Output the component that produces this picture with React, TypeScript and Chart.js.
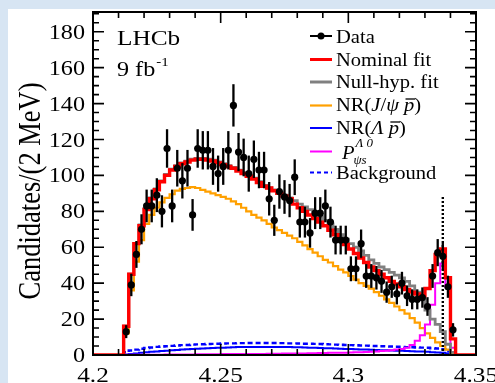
import React, { useEffect, useRef } from 'react';
import { Chart, registerables } from 'chart.js';

Chart.register(...registerables);

// ---- binning / axis ranges ----
const BIN_START = 4.212; // GeV, first bin lower edge
const BIN_WIDTH = 0.002; // 2 MeV bins
const X_MIN = 4.2;
const X_MAX = 4.35;
const Y_MAX = 191;

// ---- data (candidates per 2 MeV bin) ----
const dataCounts = [
  13, 39, 56, 70, 83, 83, 89, 80, 115, 83,
  104, 97, 104, 78, 115, 114, 114, 105, 101, 105,
  114, 139, 113, 110, 101, 109, 103, 103, 87, 75,
  91, 88, 86, 99, 74, 74, 68, 79, 79, 83,
  74, 64, 64, 64, 48, 48, 62, 44, 44, 43,
  41, 35, 38, 34, 40, 33, 31, 31, 32, 27,
  44, 57, 55, 38, 14,
];

// ---- fit components ----
const nominalFit = [
  16, 45, 62, 72, 81, 87, 92, 96.5, 100, 103,
  105, 106.5, 107.5, 108.5, 109, 109, 108.5, 108, 107, 106,
  105, 104, 102.5, 101, 99.5, 98, 96, 94, 93, 91.5,
  90, 88.5, 87, 84, 82, 80, 78, 76, 74, 72,
  69.5, 67, 64, 61.5, 59, 56.5, 54, 51.5, 49, 47,
  45, 43, 41, 39.5, 38, 36.5, 35, 34, 33, 37,
  47, 56, 59, 43, 9,
];

const nullHypFit = [
  16, 45, 62, 72.5, 81.5, 87.5, 92.5, 97, 100.5, 103.5,
  105.5, 107, 108, 109, 109.5, 109.5, 109, 108.5, 107.5, 106.5,
  105.5, 104.5, 103, 101.5, 100, 98.5, 96.5, 94.5, 93, 92,
  90.5, 89, 87.5, 86, 84, 82.5, 81, 79, 77, 75,
  73, 70, 67, 64.5, 62, 60, 58, 55.5, 53, 51,
  49, 47.5, 46, 44.5, 43, 41, 38.5, 35, 31, 25,
  20, 17, 13, 6, 1.5,
];

const nrJpsiPbar = [
  12, 36, 52, 64, 73, 78, 82, 85, 87.5, 89.5,
  91.5, 92.5, 93, 93.5, 93, 92, 91, 90, 89, 88,
  87, 85.5, 84, 82, 80, 78, 76.5, 75, 73, 71,
  69.5, 68, 66.5, 65, 63, 61, 59, 57, 55, 53,
  51.5, 49.5, 47.5, 46, 44, 42, 40, 38.5, 37, 35,
  33, 31, 29, 27, 25, 23, 20.5, 18, 15, 12,
  9.5, 7, 5, 3, 1,
];

const nrLambdaPbar = [
  0.3, 0.6, 0.9, 1.2, 1.5, 1.8, 2, 2.2, 2.4, 2.6,
  2.8, 3, 3.2, 3.3, 3.5, 3.6, 3.8, 3.9, 4, 4.1,
  4.2, 4.3, 4.4, 4.4, 4.5, 4.5, 4.5, 4.5, 4.5, 4.5,
  4.5, 4.4, 4.4, 4.3, 4.3, 4.2, 4.1, 4, 3.9, 3.8,
  3.7, 3.6, 3.5, 3.4, 3.3, 3.2, 3.1, 3, 2.9, 2.8,
  2.7, 2.6, 2.5, 2.4, 2.3, 2.2, 2.1, 2, 1.9, 1.8,
  1.6, 1.4, 1.2, 0.9, 0.5,
];

const pPsiS = [
  0.1, 0.1, 0.1, 0.2, 0.2, 0.2, 0.2, 0.2, 0.3, 0.3,
  0.3, 0.3, 0.3, 0.3, 0.4, 0.4, 0.4, 0.4, 0.4, 0.5,
  0.5, 0.5, 0.5, 0.5, 0.6, 0.6, 0.6, 0.6, 0.7, 0.7,
  0.7, 0.8, 0.8, 0.8, 0.9, 0.9, 1, 1, 1.1, 1.1,
  1.2, 1.2, 1.3, 1.3, 1.4, 1.5, 1.6, 1.7, 1.8, 2,
  2.2, 2.4, 2.7, 3, 3.4, 4, 5.5, 8, 11, 17,
  28, 40, 51, 38, 4,
];

const background = [
  1.5, 2.5, 3, 3.5, 3.9, 4.2, 4.5, 4.7, 4.9, 5.1,
  5.3, 5.5, 5.6, 5.8, 5.9, 6, 6.1, 6.2, 6.3, 6.4,
  6.5, 6.5, 6.6, 6.6, 6.7, 6.7, 6.7, 6.7, 6.7, 6.7,
  6.6, 6.6, 6.5, 6.5, 6.4, 6.3, 6.3, 6.2, 6.1, 6,
  5.9, 5.8, 5.7, 5.6, 5.5, 5.4, 5.3, 5.2, 5.1, 5,
  4.9, 4.8, 4.7, 4.6, 4.5, 4.4, 4.3, 4.2, 4.1, 4,
  3.8, 3.6, 3.2, 2, 0.6,
];

// ---- resonance marker ----
const P_MASS = 4.337;
const P_LINE_TOP = 89;

// ---- ticks ----
const yTickValues = [0, 20, 40, 60, 80, 100, 120, 140, 160, 180];
const xTickValues = [4.2, 4.25, 4.3, 4.35];
const xTickLabels = ['4.2', '4.25', '4.3', '4.35'];

const FONT = '"Liberation Serif", "Times New Roman", serif';
const SX = 1.15; // horizontal stretch of tick text in the reference
const SX_LEG = 1.08;

function binEdge(i: number) {
  return BIN_START + i * BIN_WIDTH;
}

function histPoints(values: number[], padFull = false) {
  const n = values.length;
  const pts: { x: number; y: number }[] = [];
  if (padFull) pts.push({ x: X_MIN, y: 0 });
  pts.push({ x: binEdge(0), y: 0 });
  values.forEach((v, i) => pts.push({ x: binEdge(i), y: v }));
  pts.push({ x: binEdge(n), y: values[n - 1] });
  pts.push({ x: binEdge(n), y: 0 });
  if (padFull) pts.push({ x: X_MAX, y: 0 });
  return pts;
}

function drawText(
  ctx: CanvasRenderingContext2D,
  s: string,
  x: number,
  y: number,
  size: number,
  align: CanvasTextAlign = 'left',
  italic = false,
  sx = SX
) {
  ctx.save();
  ctx.font = `${italic ? 'italic ' : ''}${size}px ${FONT}`;
  ctx.textAlign = align;
  ctx.textBaseline = 'alphabetic';
  ctx.fillStyle = '#000';
  ctx.translate(x, y);
  ctx.scale(sx, 1);
  ctx.fillText(s, 0, 0);
  const w = ctx.measureText(s).width * sx;
  ctx.restore();
  return w;
}

const bgPlugin = {
  id: 'pageBg',
  beforeDraw(chart: any) {
    const ctx = chart.ctx as CanvasRenderingContext2D;
    ctx.save();
    ctx.fillStyle = '#d7e5f3';
    ctx.fillRect(0, 0, chart.width, chart.height);
    ctx.fillStyle = '#ffffff';
    ctx.fillRect(8, 9, chart.width - 8, chart.height - 9);
    ctx.restore();
  },
};

const errorBarPlugin = {
  id: 'errorBars',
  beforeDatasetDraw(chart: any, args: any) {
    if (args.index !== 0) return;
    const ctx = chart.ctx as CanvasRenderingContext2D;
    const xs = chart.scales.x;
    const ys = chart.scales.y;
    ctx.save();
    ctx.strokeStyle = '#000';
    ctx.lineWidth = 2.3;
    dataCounts.forEach((n, i) => {
      const x = xs.getPixelForValue(BIN_START + (i + 0.5) * BIN_WIDTH);
      const e = Math.sqrt(n);
      ctx.beginPath();
      ctx.moveTo(x, ys.getPixelForValue(Math.max(0, n - e)));
      ctx.lineTo(x, ys.getPixelForValue(n + e));
      ctx.stroke();
    });
    ctx.restore();
  },
};

const framePlugin = {
  id: 'frame',
  afterDraw(chart: any) {
    const ctx = chart.ctx as CanvasRenderingContext2D;
    const { left, right, top, bottom } = chart.chartArea;
    const xs = chart.scales.x;
    const ys = chart.scales.y;
    ctx.save();
    ctx.strokeStyle = '#000';
    ctx.lineWidth = 2;
    ctx.strokeRect(left, top, right - left, bottom - top);

    // x ticks (every 0.01, major every 0.05), bottom and top, inward
    ctx.lineWidth = 1.6;
    for (let i = 0; i <= 15; i++) {
      const x = xs.getPixelForValue(X_MIN + i * 0.01);
      const len = i % 5 === 0 ? 11 : 6;
      ctx.beginPath();
      ctx.moveTo(x, bottom);
      ctx.lineTo(x, bottom - len);
      ctx.moveTo(x, top);
      ctx.lineTo(x, top + len);
      ctx.stroke();
    }
    // y ticks (every 5, major every 20), left and right, inward
    for (let v = 0; v <= Y_MAX; v += 5) {
      const y = ys.getPixelForValue(v);
      const len = v % 20 === 0 ? 11 : 6;
      ctx.beginPath();
      ctx.moveTo(left, y);
      ctx.lineTo(left + len, y);
      ctx.moveTo(right, y);
      ctx.lineTo(right - len, y);
      ctx.stroke();
    }
    ctx.restore();

    // tick labels
    yTickValues.forEach((v) => {
      drawText(ctx, String(v), left - 8, ys.getPixelForValue(v) + 7, 21, 'right');
    });
    xTickValues.forEach((v, i) => {
      drawText(ctx, xTickLabels[i], xs.getPixelForValue(v), 382, 22, 'center');
    });

    // y axis title
    ctx.save();
    ctx.translate(40, 191);
    ctx.rotate(-Math.PI / 2);
    ctx.scale(1, 1.18);
    ctx.font = `26.5px ${FONT}`;
    ctx.textAlign = 'center';
    ctx.fillStyle = '#000';
    ctx.fillText('Candidates/(2 MeV)', 0, 0);
    ctx.restore();

    // LHCb label
    drawText(ctx, 'LHCb', 117, 45, 22);
    const w9 = drawText(ctx, '9 fb', 117, 76, 21);
    drawText(ctx, '-1', 117 + w9 + 1, 66, 13);

    // legend
    const lx0 = 310;
    const lx1 = 332;
    const tx = 336;
    const fs = 19;
    const T = (s: string, x: number, y: number, italic = false, size = fs) =>
      drawText(ctx, s, x, y, size, 'left', italic, SX_LEG);
    const line = (y: number, color: string, width: number, dash: number[] = []) => {
      ctx.save();
      ctx.strokeStyle = color;
      ctx.lineWidth = width;
      ctx.setLineDash(dash);
      ctx.beginPath();
      ctx.moveTo(lx0, y);
      ctx.lineTo(lx1, y);
      ctx.stroke();
      ctx.restore();
    };
    const overline = (x: number, w: number, y: number) => {
      ctx.save();
      ctx.strokeStyle = '#000';
      ctx.lineWidth = 1.3;
      ctx.beginPath();
      ctx.moveTo(x + 1.5, y);
      ctx.lineTo(x + w + 1, y);
      ctx.stroke();
      ctx.restore();
    };
    // Data
    line(36, '#000', 2);
    ctx.save();
    ctx.fillStyle = '#000';
    ctx.beginPath();
    ctx.arc((lx0 + lx1) / 2, 36, 3.5, 0, Math.PI * 2);
    ctx.fill();
    ctx.restore();
    T('Data', tx, 42.5);
    // Nominal fit
    line(59.5, '#ff0000', 3);
    T('Nominal fit', tx, 66);
    // Null-hyp fit
    line(82, '#808080', 3);
    T('Null-hyp. fit', tx, 88);
    // NR(J/psi pbar)
    line(105.5, '#ffa000', 2.2);
    {
      let x = tx;
      const b = 111;
      x += T('NR(', x, b);
      x += T('J', x, b, true);
      x += T('/', x, b);
      x += T('ψ', x, b, true);
      x += T(' ', x, b);
      const wp = T('p', x, b, true);
      overline(x, wp, b - 12);
      x += wp;
      T(')', x, b);
    }
    // NR(Lambda pbar)
    line(128, '#0000ff', 2);
    {
      let x = tx;
      const b = 134;
      x += T('NR(', x, b);
      x += T('Λ', x, b, true);
      x += T(' ', x, b);
      const wp = T('p', x, b, true);
      overline(x, wp, b - 12);
      x += wp;
      T(')', x, b);
    }
    // P_psi s ^Lambda 0
    line(151.5, '#ff00ff', 2);
    {
      const wP = T('P', 342, 159, true);
      T('ψs', 342 + wP - 1, 164, true, 12);
      T('Λ 0', 342 + wP + 1, 147, true, 12);
    }
    // Background
    line(172.5, '#0000ff', 2.2, [4, 3]);
    T('Background', tx, 179);
  },
};

export default function App() {
  const ref = useRef<HTMLCanvasElement | null>(null);

  useEffect(() => {
    if (!ref.current) return;
    const dataPoints = dataCounts.map((n, i) => ({
      x: BIN_START + (i + 0.5) * BIN_WIDTH,
      y: n,
    }));
    const hist = (label: string, values: number[], color: string, width: number, dash: number[] = [], full = false) => ({
      label,
      data: histPoints(values, full),
      borderColor: color,
      backgroundColor: color,
      borderWidth: width,
      borderDash: dash,
      stepped: 'before' as const,
      pointRadius: 0,
      fill: false,
      tension: 0,
    });

    const chart = new Chart(ref.current, {
      type: 'line',
      data: {
        datasets: [
          {
            label: 'Data',
            data: dataPoints,
            showLine: false,
            pointRadius: 3.6,
            pointBackgroundColor: '#000',
            pointBorderColor: '#000',
            pointBorderWidth: 0,
            borderColor: '#000',
            backgroundColor: '#000',
          } as any,
          {
            label: 'P mass',
            data: [
              { x: P_MASS, y: 0 },
              { x: P_MASS, y: P_LINE_TOP },
            ],
            borderColor: '#000',
            borderWidth: 2.4,
            borderDash: [2, 2],
            pointRadius: 0,
            fill: false,
          },
          hist('Nominal fit', nominalFit, '#ff0000', 3.4, [], true),
          hist('Null-hyp. fit', nullHypFit, '#808080', 2.8),
          hist('P', pPsiS, '#ff00ff', 2),
          hist('NR(J/psi pbar)', nrJpsiPbar, '#ffa000', 2.2),
          hist('NR(Lambda pbar)', nrLambdaPbar, '#0000ff', 2),
          hist('Background', background, '#0000ff', 2.4, [5, 3]),
        ],
      },
      options: {
        responsive: false,
        maintainAspectRatio: false,
        animation: false,
        events: [],
        layout: { padding: { left: 93, top: 12, right: 19, bottom: 28 } },
        scales: {
          x: { type: 'linear', min: X_MIN, max: X_MAX, display: false },
          y: { type: 'linear', min: 0, max: Y_MAX, display: false },
        },
        plugins: {
          legend: { display: false },
          tooltip: { enabled: false },
        },
      },
      plugins: [bgPlugin, errorBarPlugin, framePlugin],
    });
    return () => chart.destroy();
  }, []);

  return (
    <div style={{ position: 'fixed', left: 0, top: 0, width: 495, height: 383 }}>
      <canvas ref={ref} width={495} height={383} style={{ width: 495, height: 383, display: 'block' }} />
    </div>
  );
}
